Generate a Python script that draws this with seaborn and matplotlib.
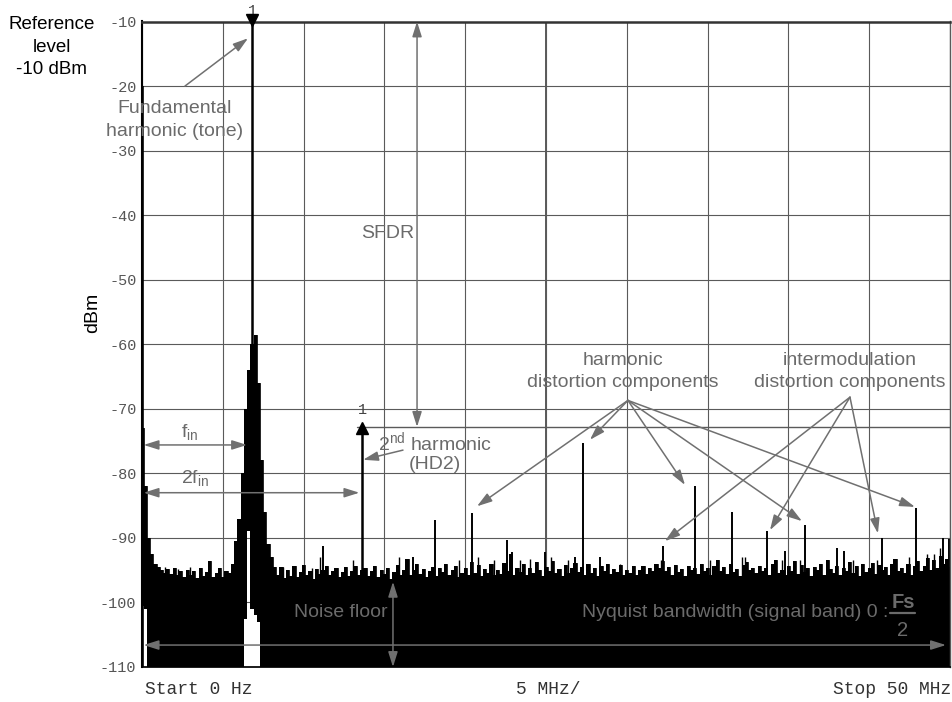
import numpy as np
import matplotlib
matplotlib.use("Agg")
import matplotlib.pyplot as plt
import seaborn as sns

# ---------------- data ----------------
freq_step_mhz = 0.2          # spacing of the noise-floor trace points (0 ... 50 MHz)
noise_max_dbm = [
    -73.0, -82.0, -90.0, -92.5, -94.0, -94.5, -95.0, -95.5, -94.8, -95.6,
    -94.6, -95.8, -95.2, -96.0, -94.9, -95.7, -95.1, -96.2, -94.7, -95.9,
    -95.3, -93.6, -96.0, -95.4, -94.6, -96.1, -95.2, -95.5, -94.0, -90.5,
    -87.0, -80.0, -70.0, -64.0, -60.0, -58.5, -66.0, -78.0, -86.0, -91.0,
    -93.0, -94.5, -95.8, -94.5, -96.2, -95.0, -95.9, -94.4, -96.0, -95.3,
    -94.2, -95.7, -95.1, -96.3, -94.8, -95.6, -95.0, -94.3, -95.8, -95.2,
    -94.6, -96.0, -95.3, -94.5, -95.9, -95.1, -94.4, -95.7, -95.0, -94.7,
    -95.9, -95.2, -94.3, -96.1, -95.0, -95.6, -94.6, -96.3, -95.3, -94.2,
    -95.8, -94.9, -93.2, -95.7, -95.0, -94.1, -95.6, -94.8, -96.0, -95.1,
    -94.5, -95.9, -94.7, -95.3, -94.0, -95.8, -95.0, -94.4, -96.0, -95.4,
    -94.6, -95.7, -93.8, -95.5, -94.2, -95.9, -94.8, -95.4, -94.1, -95.8,
    -94.9, -95.6, -93.9, -95.2, -92.5, -95.7, -94.6, -95.3, -94.0, -95.8,
    -94.7, -95.5, -93.8, -95.0, -95.9, -94.5, -95.2, -93.6, -95.4, -94.8,
    -95.9, -94.2, -95.5, -94.7, -93.9, -95.3, -94.5, -95.8, -94.1, -95.4,
    -94.6, -95.9, -94.3, -95.1, -94.0, -95.6, -94.8, -95.3, -94.2, -95.7,
    -94.9, -95.4, -94.4, -95.8, -95.0, -94.3, -95.6, -94.7, -95.2, -94.0,
    -94.6, -93.6, -95.1, -94.5, -95.7, -94.2, -95.3, -94.8, -95.9, -94.4,
    -95.0, -94.6, -95.6, -94.1, -95.2, -94.7, -95.8, -94.3, -93.4, -95.1,
    -94.5, -95.6, -94.0, -95.3, -94.8, -95.9, -94.2, -93.7, -95.0, -94.6,
    -95.5, -94.3, -95.2, -94.7, -95.8, -94.1, -93.5, -95.4, -94.9, -95.7,
    -94.4, -95.1, -93.6, -95.6, -94.2, -95.3, -94.7, -95.9, -94.5, -95.0,
    -94.0, -95.7, -93.4, -94.8, -95.4, -94.3, -95.8, -94.6, -95.2, -93.8,
    -95.5, -94.4, -95.9, -94.1, -95.3, -94.7, -93.9, -95.6, -94.2, -95.0,
    -94.5, -95.7, -94.0, -93.2, -95.2, -94.6, -95.4, -94.1, -95.8, -94.3,
    -93.6, -95.1, -94.4, -93.1, -94.9, -93.5, -94.6, -92.8, -94.0, -93.3,
    -94.5,
]
# columns where the lower envelope of the trace lifts off the -110 dBm floor
min_freq_mhz = [0.0, 0.2, 6.4, 6.6, 6.8, 7.0, 7.2]
min_level_dbm = [-100.5, -101.0, -102.5, -89.0, -101.0, -102.0, -103.0]
floor_dbm = -110

dc_freq_mhz, dc_level_dbm = 0.0, -20.0
tone_freq_mhz, tone_level_dbm = 6.81, -10.0
hd2_freq_mhz, hd2_level_dbm = 13.62, -73.3

# distinct spurs (harmonics, intermodulation products, others)
spur_freq_mhz = [11.2, 16.77, 18.15, 20.42, 22.59, 22.9, 24.94, 26.8, 27.29,
                 28.34, 32.27, 34.22, 36.51, 38.66, 39.79, 41.03, 43.0, 43.44,
                 45.79, 47.9, 49.57, 49.94]
spur_level_dbm = [-91.3, -93.0, -87.2, -86.2, -90.3, -92.2, -92.2, -93.0, -75.3,
                  -93.0, -91.2, -82.0, -86.0, -89.0, -92.0, -88.0, -91.6, -92.0,
                  -90.0, -85.4, -90.0, -90.2]
# small noise spikes standing out of the floor
minor_freq_mhz = [1.42, 2.23, 2.97, 3.59, 8.73, 9.34, 10.52, 11.01, 13.06, 15.9,
                  19.62, 20.79, 21.78, 23.39, 24.01, 25.31, 26.36, 29.58, 32.12,
                  35.15, 37.13, 37.31, 39.6, 40.72, 44.0, 45.48, 47.46, 48.58,
                  49.01, 49.38]
minor_level_dbm = [-94.5, -94.8, -94.5, -94.6, -94.5, -94.4, -94.6, -93.0, -93.5,
                   -93.0, -93.5, -93.0, -93.5, -93.5, -93.3, -93.0, -93.4, -94.0,
                   -93.5, -93.5, -93.0, -93.0, -93.5, -93.5, -93.5, -93.5, -93.0,
                   -92.5, -92.5, -91.5]

y_ticks = list(range(-110, -9, 10))
x_ticks = list(range(0, 51, 5))
x_labels = ["Start 0 Hz", "5 MHz/", "Stop 50 MHz"]

# ---------------- style ----------------
sns.set_theme(style="white")
plt.rcParams["font.family"] = ["Liberation Sans", "DejaVu Sans"]
plt.rcParams["mathtext.fontset"] = "custom"
plt.rcParams["mathtext.rm"] = "Liberation Sans"
plt.rcParams["mathtext.it"] = "Liberation Sans:italic"
plt.rcParams["mathtext.bf"] = "Liberation Sans:bold"

TXT = "#6b6b6b"
ARR = "#707070"
GRID = "#5a5a5a"
MONO = ["Liberation Mono", "DejaVu Sans Mono"]

fig = plt.figure(figsize=(9.52, 7.02), dpi=100)
ax = fig.add_axes([142 / 952, 1 - 667 / 702, 808 / 952, 645.5 / 702])

freq = np.arange(len(noise_max_dbm)) * freq_step_mhz
trace_max = np.array(noise_max_dbm)
trace_min = np.full(len(noise_max_dbm), float(floor_dbm))
for f, v in zip(min_freq_mhz, min_level_dbm):
    trace_min[int(round(f / freq_step_mhz))] = v

ax.fill_between(freq, trace_min, trace_max, step="mid", color="black", lw=0, zorder=2)
sns.lineplot(x=freq, y=trace_max, ax=ax, color="black", lw=0.6,
             drawstyle="steps-mid", estimator=None, sort=False, zorder=2)

ax.vlines(minor_freq_mhz, -97, minor_level_dbm, colors="black", lw=1.0, zorder=2)
ax.vlines(spur_freq_mhz, -97, spur_level_dbm, colors="black", lw=1.4, zorder=2)
ax.vlines([dc_freq_mhz], -110, dc_level_dbm, colors="black", lw=2.6, zorder=2)
ax.vlines([tone_freq_mhz], -62, tone_level_dbm, colors="black", lw=1.8, zorder=2)
ax.vlines([hd2_freq_mhz], -97, hd2_level_dbm, colors="black", lw=1.8, zorder=2)

# markers
ax.plot([tone_freq_mhz], [tone_level_dbm + 0.3], marker="v", color="black",
        ms=8, clip_on=False, zorder=5)
ax.plot([hd2_freq_mhz], [hd2_level_dbm + 0.3], marker="^", color="black",
        ms=8, clip_on=False, zorder=5)
ax.text(tone_freq_mhz, tone_level_dbm + 0.6, "1", ha="center", va="bottom",
        fontsize=11, color="#444", family=MONO)
ax.text(hd2_freq_mhz, hd2_level_dbm + 2.1, "1", ha="center", va="bottom",
        fontsize=11, color="#444", family=MONO)
# marker reference line
ax.plot([13.3, 50], [-72.8, -72.8], color=GRID, lw=1.0, zorder=1.5)

# axes, grid
ax.set_xlim(0, 50)
ax.set_ylim(-110, -10)
ax.set_xticks(x_ticks)
ax.set_xticklabels([])
ax.set_yticks(y_ticks)
ax.set_yticklabels([f"{v:d}" for v in y_ticks], family=MONO, fontsize=11, color="#555")
ax.tick_params(axis="both", length=0, pad=4)
ax.grid(True, color=GRID, lw=0.8)
ax.set_axisbelow(True)
ax.axvline(25, color=GRID, lw=1.4, zorder=0.5)
for s in ax.spines.values():
    s.set_visible(True)
ax.spines["top"].set_color("#333")
ax.spines["top"].set_linewidth(1.8)
ax.spines["left"].set_color("black")
ax.spines["left"].set_linewidth(1.5)
ax.spines["bottom"].set_color("black")
ax.spines["right"].set_color(GRID)
ax.spines["right"].set_linewidth(1.0)
ax.set_xlabel("")
ax.set_ylabel("")

# bottom labels
fig.text(145 / 952, 1 - 690 / 702, x_labels[0], ha="left", va="center",
         fontsize=13, color="#333", family=MONO)
fig.text(516 / 952, 1 - 689 / 702, x_labels[1], ha="left", va="center",
         fontsize=13, color="#333", family=MONO)
fig.text(951 / 952, 1 - 689 / 702, x_labels[2], ha="right", va="center",
         fontsize=13, color="#333", family=MONO)

fig.text(52 / 952, 1 - 47 / 702, "Reference\nlevel\n-10 dBm", ha="center", va="center",
         fontsize=13.5, color="black", linespacing=1.45)
fig.text(93 / 952, 1 - 313 / 702, "dBm", ha="center", va="center", rotation=90,
         fontsize=14, color="black")


def arrow(p_from, p_to, style="-|>"):
    ax.annotate("", xy=p_to, xytext=p_from,
                arrowprops=dict(arrowstyle=f"{style},head_length=0.7,head_width=0.22",
                                color=ARR, lw=1.1, mutation_scale=13,
                                shrinkA=0, shrinkB=0),
                annotation_clip=False, zorder=4)


def label(x, y, s, **kw):
    ax.text(x, y, s, ha="center", va="center", fontsize=14, color=TXT, zorder=4, **kw)


# fundamental
label(2.04, -25.3, "Fundamental\nharmonic (tone)", linespacing=1.45)
arrow((2.66, -20.0), (6.56, -12.6))
# fin / 2fin
label(2.97, -73.6, r"f$_{\rm in}$")
arrow((0.1, -75.6), (6.5, -75.6), "<|-|>")
label(3.28, -80.7, r"2f$_{\rm in}$")
arrow((0.1, -83.0), (13.45, -83.0), "<|-|>")
# HD2
label(18.1, -75.1, r"2$^{\rm nd}$ harmonic")
label(18.1, -78.7, "(HD2)")
arrow((16.15, -76.4), (13.68, -77.9))
# SFDR
label(15.19, -42.8, "SFDR")
arrow((17.02, -72.8), (17.02, -10.0), "<|-|>")
# noise floor
label(12.31, -101.6, "Noise floor")
arrow((15.53, -110.0), (15.53, -96.8), "<|-|>")
# Nyquist
arrow((0.1, -106.6), (49.75, -106.6), "<|-|>")
ax.text(46.16, -101.6, "Nyquist bandwidth (signal band) 0 :", ha="right", va="center",
        fontsize=14, color=TXT, zorder=4)
ax.text(47.09, -100.0, "Fs", ha="center", va="center", fontsize=14.5,
        fontweight="bold", color=TXT, zorder=4)
ax.plot([46.3, 47.85], [-101.7, -101.7], color=TXT, lw=1.6, zorder=4)
ax.text(47.09, -104.3, "2", ha="center", va="center", fontsize=14.5, color=TXT, zorder=4)

# harmonic distortion components
label(29.77, -64.2, "harmonic\ndistortion components", linespacing=1.4)
for tgt in [(20.73, -85.1), (27.72, -74.8), (33.6, -81.8), (40.84, -87.4), (47.83, -85.2)]:
    arrow((30.07, -68.7), tgt)
# intermodulation distortion components
label(43.81, -64.2, "intermodulation\ndistortion components", linespacing=1.4)
for tgt in [(32.36, -90.5), (38.86, -88.8), (45.54, -89.3)]:
    arrow((43.81, -68.2), tgt)

fig.savefig("out.png", dpi=100)
